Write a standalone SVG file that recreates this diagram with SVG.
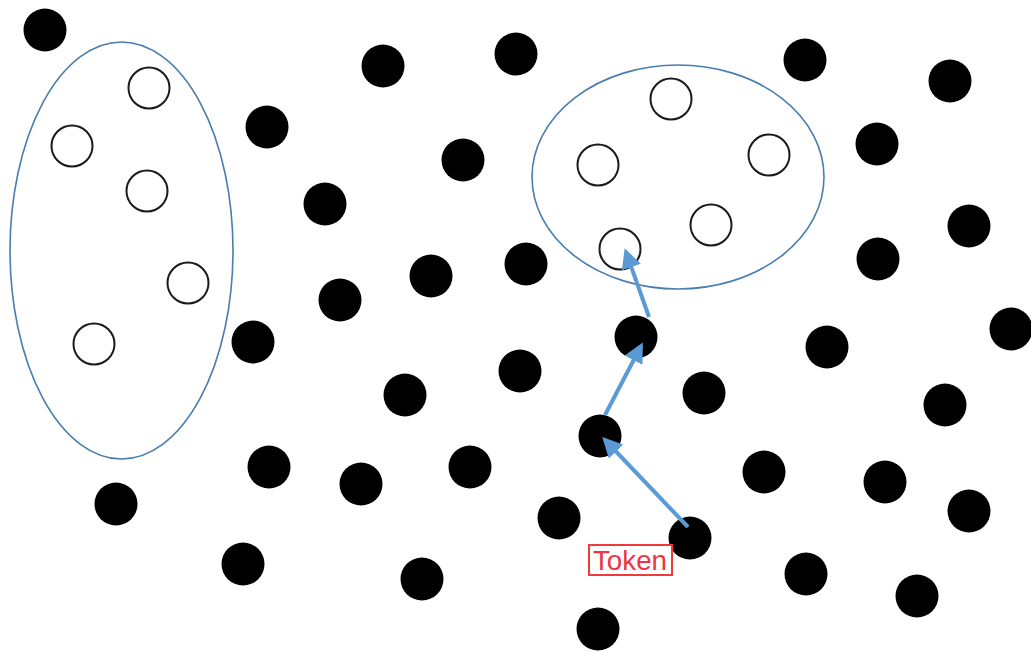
<svg xmlns="http://www.w3.org/2000/svg" width="1031" height="652" viewBox="0 0 1031 652">
  <style>
    .dot { fill: #000; }
    .open { fill: #fff; stroke: #1a1a1a; stroke-width: 2; }
    .group { fill: none; stroke: #4a7db0; stroke-width: 1.6; }
    .hop { stroke: #5b9bd5; stroke-width: 4; fill: none; marker-end: url(#head); }
    .label { font-family: "Liberation Sans", Arial, sans-serif; font-size: 27px; fill: #ee3440; }
    .labelbox { fill: #fff; stroke: #ee3a3a; stroke-width: 2; }
  </style>
  <defs>
    <marker id="head" viewBox="0 0 10 10" refX="8" refY="5" markerWidth="5" markerHeight="5" orient="auto" markerUnits="strokeWidth">
      <path d="M0,0 L10,5 L0,10 z" fill="#5b9bd5"/>
    </marker>
  </defs>
  <rect width="1031" height="652" fill="#fff"/>

  <!-- clusters -->
  <g id="cluster-left">
    <ellipse class="group" cx="121.5" cy="250.5" rx="111.5" ry="208.5"/>
    <circle class="open" cx="149" cy="88" r="20.5"/>
    <circle class="open" cx="72" cy="146" r="20.5"/>
    <circle class="open" cx="147" cy="191" r="20.5"/>
    <circle class="open" cx="188" cy="283" r="20.5"/>
    <circle class="open" cx="94" cy="344" r="20.5"/>
  </g>
  <g id="cluster-right">
    <ellipse class="group" cx="678" cy="177" rx="146" ry="112"/>
    <circle class="open" cx="671" cy="99" r="20.5"/>
    <circle class="open" cx="598" cy="165" r="20.5"/>
    <circle class="open" cx="769" cy="155" r="20.5"/>
    <circle class="open" cx="711" cy="225" r="20.5"/>
    <circle class="open" cx="620" cy="249" r="20.5"/>
  </g>

  <!-- scattered nodes -->
  <g id="nodes">
    <circle class="dot" cx="45" cy="30" r="21.5"/>
    <circle class="dot" cx="383" cy="66" r="21.5"/>
    <circle class="dot" cx="516" cy="54" r="21.5"/>
    <circle class="dot" cx="805" cy="60" r="21.5"/>
    <circle class="dot" cx="950" cy="81" r="21.5"/>
    <circle class="dot" cx="267" cy="127" r="21.5"/>
    <circle class="dot" cx="463" cy="160" r="21.5"/>
    <circle class="dot" cx="877" cy="144" r="21.5"/>
    <circle class="dot" cx="325" cy="204" r="21.5"/>
    <circle class="dot" cx="969" cy="226" r="21.5"/>
    <circle class="dot" cx="526" cy="264" r="21.5"/>
    <circle class="dot" cx="878" cy="259" r="21.5"/>
    <circle class="dot" cx="431" cy="276" r="21.5"/>
    <circle class="dot" cx="340" cy="300" r="21.5"/>
    <circle class="dot" cx="636" cy="337" r="21.5"/>
    <circle class="dot" cx="1011" cy="329" r="21.5"/>
    <circle class="dot" cx="253" cy="342" r="21.5"/>
    <circle class="dot" cx="827" cy="347" r="21.5"/>
    <circle class="dot" cx="520" cy="371" r="21.5"/>
    <circle class="dot" cx="405" cy="395" r="21.5"/>
    <circle class="dot" cx="704" cy="393" r="21.5"/>
    <circle class="dot" cx="945" cy="405" r="21.5"/>
    <circle class="dot" cx="600" cy="436" r="21.5"/>
    <circle class="dot" cx="269" cy="467" r="21.5"/>
    <circle class="dot" cx="470" cy="467" r="21.5"/>
    <circle class="dot" cx="361" cy="484" r="21.5"/>
    <circle class="dot" cx="764" cy="472" r="21.5"/>
    <circle class="dot" cx="885" cy="482" r="21.5"/>
    <circle class="dot" cx="116" cy="504" r="21.5"/>
    <circle class="dot" cx="559" cy="518" r="21.5"/>
    <circle class="dot" cx="969" cy="511" r="21.5"/>
    <circle class="dot" cx="690" cy="538" r="21.5"/>
    <circle class="dot" cx="243" cy="564" r="21.5"/>
    <circle class="dot" cx="422" cy="579" r="21.5"/>
    <circle class="dot" cx="806" cy="574" r="21.5"/>
    <circle class="dot" cx="917" cy="596" r="21.5"/>
    <circle class="dot" cx="598" cy="629" r="21.5"/>
  </g>

  <!-- token path -->
  <g id="connectors">
    <line class="hop" x1="688" y1="527" x2="605" y2="440"/>
    <line class="hop" x1="605" y1="415" x2="641" y2="346"/>
    <line class="hop" x1="649" y1="317" x2="626" y2="252"/>
  </g>

  <g id="token-label">
    <rect class="labelbox" x="589" y="545" width="83" height="30"/>
    <text class="label" x="630" y="570" text-anchor="middle" textLength="74" lengthAdjust="spacingAndGlyphs">Token</text>
  </g>
</svg>
